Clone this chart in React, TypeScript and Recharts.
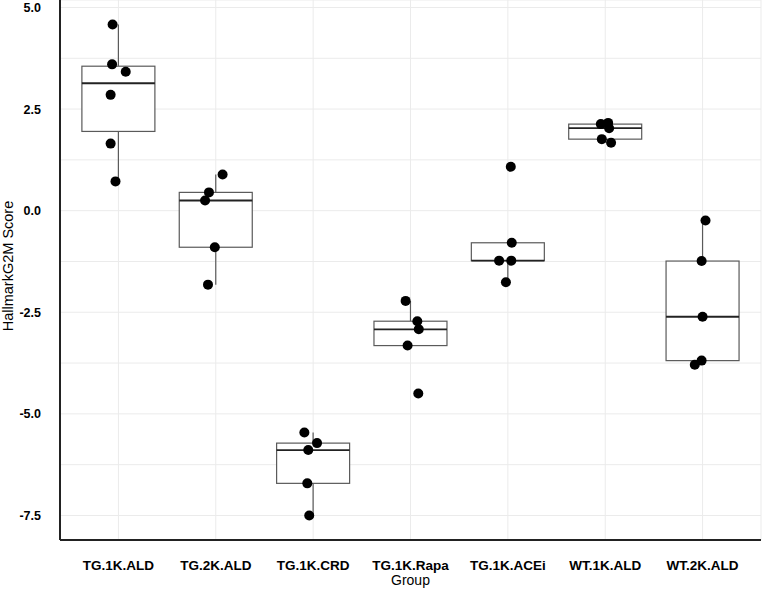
import React from 'react';
import { ComposedChart, Bar, Scatter, XAxis, YAxis, CartesianGrid } from 'recharts';

const categories = ['TG.1K.ALD', 'TG.2K.ALD', 'TG.1K.CRD', 'TG.1K.Rapa', 'TG.1K.ACEi', 'WT.1K.ALD', 'WT.2K.ALD'];

// HallmarkG2M scores per group
const tg1kAld = [4.58, 3.6, 3.42, 2.85, 1.65, 0.72];
const tg2kAld = [0.89, 0.45, 0.25, -0.9, -1.82];
const tg1kCrd = [-5.46, -5.72, -5.89, -6.71, -7.5];
const tg1kRapa = [-2.22, -2.72, -2.92, -3.32, -4.5];
const tg1kAcei = [1.08, -0.79, -1.23, -1.23, -1.76];
const wt1kAld = [2.13, 2.16, 2.03, 1.76, 1.67];
const wt2kAld = [-0.24, -1.24, -2.61, -3.69, -3.79];

// horizontal jitter of each point (in category units)
const tg1kAldJit = [-0.06, -0.065, 0.075, -0.08, -0.08, -0.03];
const tg2kAldJit = [0.07, -0.07, -0.11, -0.01, -0.08];
const tg1kCrdJit = [-0.09, 0.04, -0.05, -0.06, -0.04];
const tg1kRapaJit = [-0.05, 0.07, 0.085, -0.03, 0.08];
const tg1kAceiJit = [0.03, 0.04, -0.09, 0.035, -0.02];
const wt1kAldJit = [-0.045, 0.03, 0.04, -0.035, 0.06];
const wt2kAldJit = [0.03, -0.01, 0.0, -0.01, -0.08];

const yTicks = [-7.5, -6.25, -5, -3.75, -2.5, -1.25, 0, 1.25, 2.5, 3.75, 5];
const yMajor = [-7.5, -5, -2.5, 0, 2.5, 5];

const groups = [tg1kAld, tg2kAld, tg1kCrd, tg1kRapa, tg1kAcei, wt1kAld, wt2kAld];
const jitters = [tg1kAldJit, tg2kAldJit, tg1kCrdJit, tg1kRapaJit, tg1kAceiJit, wt1kAldJit, wt2kAldJit];

const quantile = (sorted: number[], p: number) => {
  const h = (sorted.length - 1) * p;
  const lo = Math.floor(h);
  const hi = Math.ceil(h);
  return sorted[lo] + (h - lo) * (sorted[hi] - sorted[lo]);
};

const boxData = categories.map((name, i) => {
  const s = [...groups[i]].sort((a, b) => a - b);
  const q1 = quantile(s, 0.25);
  const med = quantile(s, 0.5);
  const q3 = quantile(s, 0.75);
  const iqr = q3 - q1;
  const wLo = Math.min(...s.filter((v) => v >= q1 - 1.5 * iqr));
  const wHi = Math.max(...s.filter((v) => v <= q3 + 1.5 * iqr));
  return { pos: i + 1, name, q1, med, q3, range: [wLo, wHi] };
});

const pointData = groups.flatMap((g, i) => g.map((v, j) => ({ pos: i + 1 + jitters[i][j], score: v })));

const BOX_W = 73;

const BoxShape = (props: any) => {
  const { x, y, width, height, payload } = props;
  if (x == null || y == null) return null;
  const top = Math.min(y, y + height);
  const h = Math.abs(height);
  const [lo, hi] = payload.range;
  const py = (v: number) => top + ((hi - v) / (hi - lo)) * h;
  const cx = x + width / 2;
  const bx = cx - BOX_W / 2;
  const stroke = '#5a5a5a';
  return (
    <g>
      <line x1={cx} x2={cx} y1={py(hi)} y2={py(payload.q3)} stroke={stroke} strokeWidth={1.2} />
      <line x1={cx} x2={cx} y1={py(payload.q1)} y2={py(lo)} stroke={stroke} strokeWidth={1.2} />
      <rect x={bx} y={py(payload.q3)} width={BOX_W} height={py(payload.q1) - py(payload.q3)} fill="#ffffff" stroke={stroke} strokeWidth={1.2} />
      <line x1={bx} x2={bx + BOX_W} y1={py(payload.med)} y2={py(payload.med)} stroke="#222" strokeWidth={1.8} />
    </g>
  );
};

const font = '"Liberation Sans", Arial, Helvetica, sans-serif';

export default function App() {
  return (
    <div style={{ position: 'absolute', left: 0, top: 0, width: 762, height: 589, background: '#fff' }}>
      <ComposedChart width={762} height={589} data={boxData} margin={{ top: 0, right: 1, bottom: 0, left: 0 }}>
        <CartesianGrid stroke="#ebebeb" strokeWidth={1} />
        <XAxis
          type="number"
          dataKey="pos"
          domain={[0.4, 7.6]}
          ticks={[1, 2, 3, 4, 5, 6, 7]}
          allowDataOverflow
          tickFormatter={(v: number) => categories[Math.round(v) - 1]}
          height={49}
          tickLine={false}
          tickSize={0}
          tickMargin={20}
          axisLine={{ stroke: '#222', strokeWidth: 2 }}
          tick={{ fill: '#000', fontSize: 13.5, fontWeight: 'bold', fontFamily: font }}
          label={{
            content: ({ viewBox }: any) => (
              <text x={viewBox.x + viewBox.width / 2} y={viewBox.y + 45} textAnchor="middle" fontSize={14} fontFamily={font} fill="#000">
                Group
              </text>
            ),
          }}
        />
        <YAxis
          type="number"
          domain={[-8.104, 5.184]}
          ticks={yTicks}
          allowDataOverflow
          interval={0}
          tickFormatter={(v: number) => (yMajor.includes(v) ? v.toFixed(1) : '')}
          width={60}
          tickLine={false}
          tickSize={0}
          tickMargin={19}
          axisLine={{ stroke: '#222', strokeWidth: 2 }}
          tick={{ fill: '#000', fontSize: 12.5, fontWeight: 'bold', fontFamily: font }}
          label={{
            content: ({ viewBox }: any) => {
              const cx = 13;
              const cy = viewBox.y + viewBox.height / 2 - 4;
              return (
                <text x={cx} y={cy} transform={`rotate(-90 ${cx} ${cy})`} textAnchor="middle" fontSize={14.5} fontFamily={font} fill="#000">
                  HallmarkG2M Score
                </text>
              );
            },
          }}
        />
        <Bar dataKey="range" barSize={73} shape={BoxShape} isAnimationActive={false} />
        <Scatter data={pointData} dataKey="score" fill="#000" isAnimationActive={false} shape={(p: any) => <circle cx={p.cx} cy={p.cy} r={5} fill="#000" />} />
      </ComposedChart>
    </div>
  );
}
